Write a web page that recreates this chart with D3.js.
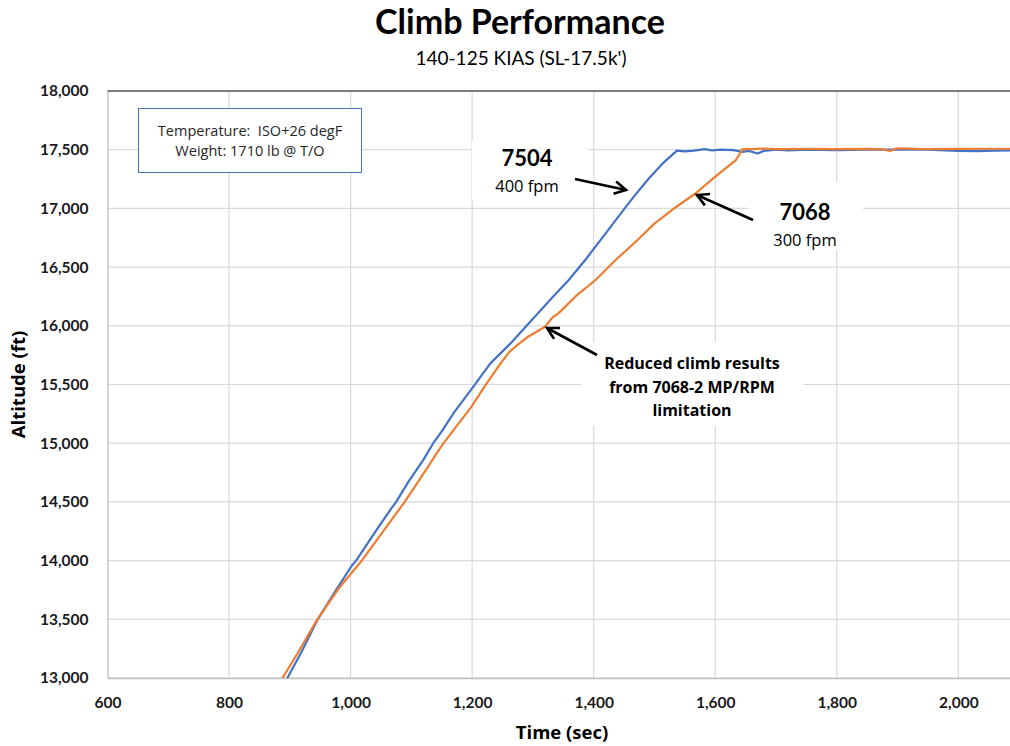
<!DOCTYPE html>
<html><head><meta charset="utf-8">
<script src="https://cdn.jsdelivr.net/npm/d3@7/dist/d3.min.js"></script>
<style>body{margin:0;background:#fff;} svg{display:block;font-family:Lato,"Open Sans",sans-serif;}</style>
</head><body><svg id="c" width="1010" height="746"></svg>
<script>
// ---- data ----
const xTicks = [600, 800, 1000, 1200, 1400, 1600, 1800, 2000];
const yTicks = [13000, 13500, 14000, 14500, 15000, 15500, 16000, 16500, 17000, 17500, 18000];
const blueTime = [880, 896, 920, 946, 975, 1001, 1009, 1040, 1067, 1075, 1095, 1120, 1136, 1150, 1170, 1199, 1230, 1265, 1300, 1330, 1359, 1386, 1420, 1445, 1466, 1490, 1515, 1530, 1537, 1550, 1565, 1582, 1595, 1610, 1630, 1645, 1655, 1670, 1680, 1700, 1720, 1750, 1800, 1850, 1900, 1950, 2000, 2030, 2060, 2090];
const blueAlt  = [12870, 13000, 13230, 13500, 13740, 13950, 14000, 14240, 14445, 14500, 14670, 14860, 15000, 15100, 15260, 15460, 15680, 15860, 16060, 16230, 16390, 16560, 16790, 16960, 17100, 17250, 17390, 17460, 17492, 17485, 17492, 17505, 17495, 17500, 17497, 17482, 17490, 17468, 17490, 17500, 17495, 17500, 17497, 17500, 17500, 17500, 17490, 17488, 17492, 17495];
const orangeTime = [875, 888, 915, 943, 980, 1020, 1055, 1089, 1120, 1150, 1175, 1199, 1220, 1243, 1260, 1271, 1290, 1320, 1332, 1342, 1370, 1403, 1436, 1470, 1500, 1535, 1568, 1600, 1634, 1645, 1660, 1680, 1700, 1750, 1800, 1850, 1880, 1888, 1895, 1900, 1950, 2000, 2050, 2090];
const orangeAlt  = [12880, 13000, 13230, 13480, 13760, 14010, 14260, 14500, 14740, 14980, 15150, 15311, 15480, 15652, 15770, 15822, 15900, 15992, 16070, 16106, 16250, 16390, 16560, 16720, 16870, 17010, 17129, 17270, 17412, 17505, 17505, 17510, 17505, 17507, 17505, 17507, 17500, 17488, 17505, 17512, 17505, 17507, 17508, 17508];
const title = "Climb Performance";
const subtitle = "140-125 KIAS (SL-17.5k')";
const infoLines = ["Temperature:  ISO+26 degF", "Weight: 1710 lb @ T/O"];

// ---- layout ----
const svg = d3.select("#c");
const L = 107.5, R = 1010, T = 91, B = 678;
const x = d3.scaleLinear().domain([600, 2085]).range([L, R]);
const y = d3.scaleLinear().domain([13000, 18000]).range([B, T]);

svg.append("text").attr("x", 520).attr("y", 34).attr("text-anchor", "middle")
  .attr("font-size", 34).attr("font-weight", 700).attr("fill", "#000").text(title);
svg.append("text").attr("x", 521).attr("y", 65).attr("text-anchor", "middle")
  .attr("font-size", 19).attr("fill", "#000").text(subtitle);

// gridlines
const g = svg.append("g");
g.selectAll(".hg").data(yTicks).join("line")
  .attr("x1", L).attr("x2", R).attr("y1", d => y(d)).attr("y2", d => y(d))
  .attr("stroke", "#d9d9d9").attr("stroke-width", 1.2);
g.selectAll(".vg").data(xTicks.slice(1)).join("line")
  .attr("x1", d => x(d)).attr("x2", d => x(d)).attr("y1", T).attr("y2", B)
  .attr("stroke", "#d9d9d9").attr("stroke-width", 1.2);

// axes
const yAxis = d3.axisLeft(y).tickValues(yTicks).tickFormat(d3.format(",")).tickSize(0).tickPadding(19);
const ya = svg.append("g").attr("transform", `translate(${L},0)`).call(yAxis);
ya.select(".domain").attr("stroke", "#bfbfbf").attr("stroke-width", 1.3);
ya.selectAll("text").attr("font-size", 15.5).attr("font-weight", 700).attr("fill", "#1a1a1a").attr("font-family", "Lato");
const xAxis = d3.axisBottom(x).tickValues(xTicks).tickFormat(d3.format(",")).tickSize(0).tickPadding(19);
const xa = svg.append("g").attr("transform", `translate(0,${B})`).call(xAxis);
xa.select(".domain").attr("stroke", "#bfbfbf").attr("stroke-width", 1.6);
xa.selectAll("text").attr("font-size", 15.5).attr("font-weight", 700).attr("fill", "#1a1a1a").attr("font-family", "Lato");
svg.append("line").attr("x1", L).attr("x2", R).attr("y1", T).attr("y2", T).attr("stroke", "#595959").attr("stroke-width", 1.3);

svg.append("text").attr("transform", `translate(25,${(T + B) / 2}) rotate(-90)`).attr("text-anchor", "middle")
  .attr("font-size", 18.5).attr("font-weight", 700).attr("font-family", "Open Sans").attr("fill", "#000").text("Altitude (ft)");
svg.append("text").attr("x", 562).attr("y", 739).attr("text-anchor", "middle")
  .attr("font-size", 18.5).attr("font-weight", 700).attr("font-family", "Open Sans").attr("fill", "#000").text("Time (sec)");

// clip
svg.append("clipPath").attr("id", "clip").append("rect").attr("x", L).attr("y", T - 5).attr("width", R - L).attr("height", B - T + 5);

// annotation backgrounds (white boxes)
svg.append("rect").attr("x", 472).attr("y", 140).attr("width", 116).attr("height", 60).attr("fill", "#fff");
svg.append("rect").attr("x", 748).attr("y", 182).attr("width", 115).attr("height", 68).attr("fill", "#fff");
svg.append("rect").attr("x", 582).attr("y", 342).attr("width", 221).attr("height", 84).attr("fill", "#fff");

const line = d3.line().x(d => x(d[0])).y(d => y(d[1]));
const blue = blueTime.map((t, i) => [t, blueAlt[i]]);
const orange = orangeTime.map((t, i) => [t, orangeAlt[i]]);
const lines = svg.append("g").attr("clip-path", "url(#clip)");
lines.append("path").datum(blue).attr("d", line).attr("fill", "none").attr("stroke", "#4472c4").attr("stroke-width", 2.2).attr("stroke-linejoin", "round");
lines.append("path").datum(orange).attr("d", line).attr("fill", "none").attr("stroke", "#ed7d31").attr("stroke-width", 2.2).attr("stroke-linejoin", "round");

// info box
svg.append("rect").attr("x", 138.5).attr("y", 108.5).attr("width", 223).attr("height", 64).attr("fill", "#fff").attr("stroke", "#4472c4").attr("stroke-width", 1);
infoLines.forEach((s, i) => svg.append("text").attr("x", 250).attr("y", 136 + i * 20).attr("text-anchor", "middle")
  .attr("font-size", 14.5).attr("font-family", "Open Sans").attr("fill", "#262626").style("white-space", "pre").text(s));

// annotations
function label(cx, cy1, big, small) {
  svg.append("text").attr("x", cx).attr("y", cy1).attr("text-anchor", "middle").attr("font-size", 22).attr("font-weight", 700).attr("fill", "#000").text(big);
  svg.append("text").attr("x", cx).attr("y", cy1 + 26).attr("text-anchor", "middle").attr("font-size", 16.5).attr("fill", "#000").attr("font-family", "Open Sans").text(small);
}
label(527, 166, "7504", "400 fpm");
label(805, 220, "7068", "300 fpm");
["Reduced climb results", "from 7068-2 MP/RPM", "limitation"].forEach((s, i) =>
  svg.append("text").attr("x", 692).attr("y", 369 + i * 23.5).attr("text-anchor", "middle").attr("font-size", 16).attr("font-weight", 700).attr("font-family", "Open Sans").attr("fill", "#000").text(s));

function arrow(x1, y1, x2, y2) {
  const a = Math.atan2(y2 - y1, x2 - x1), h = 13, w = 0.5;
  svg.append("line").attr("x1", x1).attr("y1", y1).attr("x2", x2).attr("y2", y2).attr("stroke", "#000").attr("stroke-width", 2.6);
  svg.append("path").attr("d", `M${x2 - h * Math.cos(a - w)},${y2 - h * Math.sin(a - w)}L${x2},${y2}L${x2 - h * Math.cos(a + w)},${y2 - h * Math.sin(a + w)}`)
    .attr("fill", "none").attr("stroke", "#000").attr("stroke-width", 2.6).attr("stroke-linejoin", "miter");
}
arrow(575, 179, 626, 190);
arrow(753, 220, 697, 195);
arrow(597, 355, 547, 328);
</script></body></html>
